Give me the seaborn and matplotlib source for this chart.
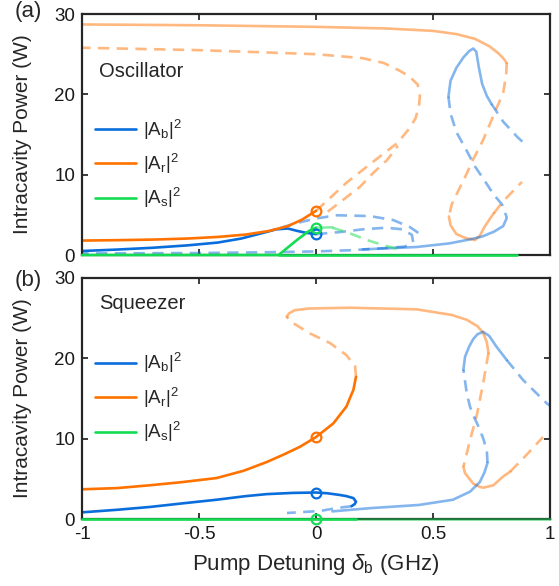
import matplotlib
matplotlib.use('Agg')
import matplotlib.pyplot as plt
import seaborn as sns
from matplotlib.lines import Line2D

# ---- (a) Oscillator ----
a_r_x = [-1, -0.85, -0.7, -0.55, -0.42, -0.3, -0.2, -0.12, -0.06, 0]
a_r_y = [1.8, 1.85, 1.92, 2.05, 2.25, 2.55, 3.0, 3.6, 4.4, 5.5]
a_b_x = [-1, -0.85, -0.7, -0.55, -0.42, -0.32, -0.24, -0.17, -0.12, -0.08, -0.04, 0]
a_b_y = [0.5, 0.68, 0.9, 1.2, 1.55, 2.05, 2.65, 3.2, 3.3, 3.0, 2.75, 2.6]
a_s_x = [-1, -0.16, -0.12, -0.08, -0.03, 0]
a_s_y = [0, 0, 0.95, 1.9, 3.0, 3.4]
a_s0_x = [-0.16, 0.86]
a_s0_y = [0, 0]
a_s_short_x = [0, 0.07]
a_s_short_y = [3.4, 3.45]
a_s_dash_x = [0.07, 0.145, 0.22, 0.29, 0.345]
a_s_dash_y = [3.4, 2.7, 1.85, 1.2, 0.8]

a_rtop_x = [-1, -0.5, 0, 0.3, 0.5, 0.6, 0.68, 0.74, 0.78, 0.8, 0.815]
a_rtop_y = [28.7, 28.6, 28.4, 28.2, 27.9, 27.5, 26.9, 26.0, 25.1, 24.5, 23.9]
a_rup_x = [0, 0.06, 0.13, 0.2, 0.27, 0.35, 0.40, 0.425, 0.44, 0.444, 0.435, 0.40, 0.36, 0.29, 0.2, 0, -0.5, -1]
a_rup_y = [5.5, 7.1, 9.0, 10.6, 12.2, 14.0, 15.8, 17.0, 18.5, 19.8, 21.2, 22.2, 22.9, 23.9, 24.5, 25.0, 25.5, 25.8]
a_rlow_x = [0.05, 0.115, 0.188, 0.244, 0.303, 0.35]
a_rlow_y = [5.4, 6.85, 8.5, 10.2, 11.8, 13.6]
a_rdown_x = [0.815, 0.813, 0.8, 0.756, 0.714, 0.67, 0.637, 0.603, 0.58, 0.568]
a_rdown_y = [23.9, 22.5, 20.2, 17.2, 14.3, 11.8, 9.7, 7.7, 6.3, 4.8]
a_rbot_x = [0.568, 0.575, 0.6, 0.64, 0.68, 0.7, 0.72, 0.75, 0.76]
a_rbot_y = [4.8, 3.7, 2.6, 2.1, 1.87, 2.4, 3.5, 4.8, 5.2]
a_rtail_x = [0.76, 0.8, 0.84, 0.88]
a_rtail_y = [5.2, 6.7, 7.9, 9.1]

a_barc1_x = [-0.15, -0.08, 0.0, 0.09, 0.23, 0.33, 0.40, 0.445]
a_barc1_y = [3.4, 4.0, 4.55, 4.95, 4.85, 4.35, 3.5, 2.6]
a_barc2_x = [0.0, 0.1, 0.2, 0.3, 0.37, 0.41, 0.415, 0.38, 0.29, 0.15, 0.0, -0.2, -0.5, -1]
a_barc2_y = [2.6, 2.85, 3.2, 3.4, 3.2, 2.5, 1.6, 1.05, 0.85, 0.6, 0.45, 0.35, 0.25, 0.2]
a_bbot_x = [0.2, 0.43, 0.57, 0.65, 0.71, 0.76, 0.8, 0.815]
a_bbot_y = [0.7, 1.0, 1.45, 1.9, 2.3, 2.9, 3.6, 4.6]
a_bdash_x = [0.566, 0.575, 0.6, 0.64, 0.68, 0.715, 0.76, 0.795, 0.815]
a_bdash_y = [19.7, 17.6, 15.3, 13.2, 11.0, 9.5, 7.5, 6.3, 4.7]
a_bpeak_x = [0.566, 0.575, 0.6, 0.63, 0.655, 0.672, 0.685, 0.695, 0.71, 0.73, 0.75]
a_bpeak_y = [19.7, 21.7, 23.3, 24.6, 25.4, 25.7, 25.3, 23.5, 21.3, 19.8, 18.8]
a_btail_x = [0.75, 0.8, 0.86, 0.89]
a_btail_y = [18.8, 16.6, 14.7, 13.9]

# ---- (b) Squeezer ----
b_r_x = [-1, -0.85, -0.71, -0.57, -0.425, -0.31, -0.21, -0.14, -0.068, 0, 0.074, 0.13, 0.16, 0.171]
b_r_y = [3.7, 3.85, 4.2, 4.6, 5.1, 6.0, 7.1, 8.0, 9.0, 10.2, 11.9, 14.0, 16.1, 17.7]
b_rdash1_x = [0.171, 0.167, 0.13, 0.06, -0.026, -0.11, -0.125]
b_rdash1_y = [17.7, 19.0, 20.4, 21.9, 23.1, 24.6, 25.2]
b_rtop_x = [-0.125, -0.115, -0.09, -0.03, 0.145, 0.43, 0.58, 0.644, 0.69, 0.714, 0.73, 0.737]
b_rtop_y = [25.2, 25.6, 26.0, 26.2, 26.3, 26.1, 25.4, 24.8, 24.0, 23.2, 22.0, 20.7]
b_rdash2_x = [0.737, 0.715, 0.687, 0.658, 0.637, 0.63]
b_rdash2_y = [20.7, 17.0, 12.9, 9.8, 7.3, 6.5]
b_rbot_x = [0.63, 0.637, 0.672, 0.7, 0.715, 0.758, 0.8, 0.83]
b_rbot_y = [6.5, 5.7, 4.4, 4.0, 3.9, 4.2, 5.3, 5.9]
b_rtail_x = [0.83, 0.9, 0.97]
b_rtail_y = [5.9, 8.0, 10.2]

b_b_x = [-1, -0.85, -0.71, -0.57, -0.425, -0.3, -0.21, -0.1, 0, 0.05, 0.1, 0.13, 0.16, 0.171, 0.165, 0.152]
b_b_y = [0.83, 1.15, 1.5, 1.95, 2.4, 2.85, 3.1, 3.25, 3.3, 3.2, 3.0, 2.85, 2.6, 2.15, 1.85, 1.6]
b_bdash1_x = [0.152, 0.09, 0.017, -0.124]
b_bdash1_y = [1.6, 1.37, 1.0, 0.75]
b_bbot_x = [0.07, 0.23, 0.44, 0.585, 0.658, 0.7, 0.72, 0.733]
b_bbot_y = [0.95, 1.35, 1.75, 2.4, 3.4, 4.6, 5.8, 7.0]
b_bdash2_x = [0.733, 0.73, 0.715, 0.69, 0.672, 0.658, 0.644, 0.63]
b_bdash2_y = [7.0, 8.5, 10.0, 11.8, 12.9, 14.0, 15.7, 18.6]
b_bpeak_x = [0.63, 0.637, 0.655, 0.672, 0.69, 0.714, 0.74, 0.77, 0.815]
b_bpeak_y = [18.6, 20.2, 21.5, 22.4, 23.0, 23.3, 22.8, 21.5, 19.8]
b_btail_x = [0.815, 0.885, 0.986, 1.0]
b_btail_y = [19.8, 17.3, 14.4, 14.1]
b_s_x = [-1, 0.171]
b_s_y = [0, 0]
b_s0_x = [0.171, 1.0]
b_s0_y = [0, 0]

# circles at zero detuning
a_circ = {'r': 5.5, 'b': 2.6, 's': 3.4}
b_circ = {'r': 10.2, 'b': 3.3, 's': 0.0}

labels = ['|A$_\\mathrm{b}$|$^2$', '|A$_\\mathrm{r}$|$^2$', '|A$_\\mathrm{s}$|$^2$']
xticks = [-1, -0.5, 0, 0.5, 1]
xticklabels = ['-1', '-0.5', '0', '0.5', '1']
yticks = [0, 10, 20, 30]

blue = '#0a6ddc'
orange = '#ff7200'
green = '#14dc52'
cols = {'b': blue, 'r': orange, 's': green}

sns.set_style('ticks')
plt.rcParams['font.family'] = ['Liberation Sans', 'DejaVu Sans']
plt.rcParams['mathtext.fontset'] = 'custom'
plt.rcParams['mathtext.rm'] = 'Liberation Sans'
plt.rcParams['mathtext.it'] = 'Liberation Sans:italic'

LW = 1.9
DASH = (0, (4.3, 2.8))


def line(ax, x, y, c, light=False, dashed=False, **kw):
    sns.lineplot(x=x, y=y, ax=ax, sort=False, estimator=None, color=c,
                 linewidth=LW, alpha=0.5 if light else 1.0,
                 linestyle=DASH if dashed else '-', **kw)


def circle(ax, y, c):
    sns.lineplot(x=[0], y=[y], ax=ax, color=c, marker='o', markersize=7,
                 markerfacecolor='none', markeredgecolor=c,
                 markeredgewidth=1.6, linestyle='', clip_on=False, zorder=5)


fig = plt.figure(figsize=(5.59, 5.86), dpi=100)
ax1 = fig.add_axes([0.1467, 0.5648, 0.8372, 0.4113])
ax2 = fig.add_axes([0.1467, 0.1143, 0.8372, 0.4113])

# panel (a)
line(ax1, a_rtop_x, a_rtop_y, orange, light=True)
line(ax1, a_rup_x, a_rup_y, orange, light=True, dashed=True)
line(ax1, a_rlow_x, a_rlow_y, orange, light=True, dashed=True)
line(ax1, a_rdown_x, a_rdown_y, orange, light=True, dashed=True)
line(ax1, a_rbot_x, a_rbot_y, orange, light=True)
line(ax1, a_rtail_x, a_rtail_y, orange, light=True, dashed=True)
line(ax1, a_barc1_x, a_barc1_y, blue, light=True, dashed=True)
line(ax1, a_barc2_x, a_barc2_y, blue, light=True, dashed=True)
line(ax1, a_bbot_x, a_bbot_y, blue, light=True)
line(ax1, a_bdash_x, a_bdash_y, blue, light=True, dashed=True)
line(ax1, a_bpeak_x, a_bpeak_y, blue, light=True)
line(ax1, a_btail_x, a_btail_y, blue, light=True, dashed=True)
line(ax1, a_s_short_x, a_s_short_y, green, light=True)
line(ax1, a_s_dash_x, a_s_dash_y, green, light=True, dashed=True)
line(ax1, a_s0_x, a_s0_y, green, clip_on=False, zorder=3)
line(ax1, a_b_x, a_b_y, blue)
line(ax1, a_r_x, a_r_y, orange)
line(ax1, a_s_x, a_s_y, green, clip_on=False, zorder=3)
for k, v in a_circ.items():
    circle(ax1, v, cols[k])

# panel (b)
line(ax2, b_rdash1_x, b_rdash1_y, orange, light=True, dashed=True)
line(ax2, b_rtop_x, b_rtop_y, orange, light=True)
line(ax2, b_rdash2_x, b_rdash2_y, orange, light=True, dashed=True)
line(ax2, b_rbot_x, b_rbot_y, orange, light=True)
line(ax2, b_rtail_x, b_rtail_y, orange, light=True, dashed=True)
line(ax2, b_bdash1_x, b_bdash1_y, blue, light=True, dashed=True)
line(ax2, b_bbot_x, b_bbot_y, blue, light=True)
line(ax2, b_bdash2_x, b_bdash2_y, blue, light=True, dashed=True)
line(ax2, b_bpeak_x, b_bpeak_y, blue, light=True)
line(ax2, b_btail_x, b_btail_y, blue, light=True, dashed=True)
line(ax2, b_s0_x, b_s0_y, green, light=True, clip_on=False, zorder=3)
line(ax2, b_b_x, b_b_y, blue)
line(ax2, b_r_x, b_r_y, orange)
line(ax2, b_s_x, b_s_y, green, clip_on=False, zorder=3)
for k, v in b_circ.items():
    circle(ax2, v, cols[k])

handles = [Line2D([], [], color=cols[k], linewidth=LW) for k in ['b', 'r', 's']]
for ax, ybox in [(ax1, 0.625), (ax2, 0.75)]:
    ax.set_xlim(-1, 1)
    ax.set_ylim(0, 30)
    ax.set_xticks(xticks)
    ax.set_yticks(yticks)
    ax.tick_params(direction='in', length=4, width=1.2, top=True, right=True,
                   labelsize=13.5, colors='#1a1a1a', pad=5)
    for s in ax.spines.values():
        s.set_linewidth(1.6)
        s.set_color('#262626')
    ax.set_ylabel('Intracavity Power (W)', fontsize=15)
    ax.yaxis.set_label_coords(-0.107, 0.5)
    ax.set_xlabel('')
    ax.legend(handles, labels, loc='upper left', bbox_to_anchor=(0.0, ybox),
              frameon=False, fontsize=13.5, handlelength=2.2,
              labelspacing=0.55, handletextpad=0.35, borderaxespad=0.3)
ax1.set_xticklabels([])
ax2.set_xticklabels(xticklabels)
ax2.set_xlabel('Pump Detuning $\\delta_\\mathrm{b}$ (GHz)', fontsize=16)
ax2.xaxis.set_label_coords(0.5, -0.135)

ax1.text(0.036, 0.76, 'Oscillator', transform=ax1.transAxes, fontsize=14.5,
         va='center', ha='left')
ax2.text(0.036, 0.895, 'Squeezer', transform=ax2.transAxes, fontsize=14.5,
         va='center', ha='left')
fig.text(28 / 559, 1 - 12 / 586, '(a)', fontsize=16, ha='center', va='center')
fig.text(28 / 559, 1 - 281 / 586, '(b)', fontsize=16, ha='center', va='center')

fig.savefig('out.png', dpi=100)
